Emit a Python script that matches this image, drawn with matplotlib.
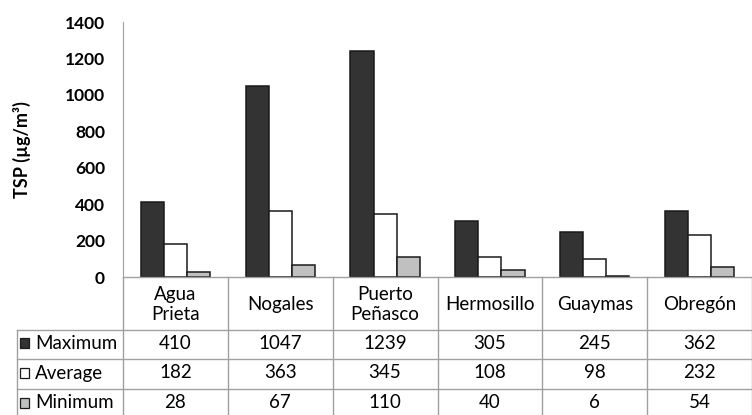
import matplotlib.pyplot as plt
from matplotlib.patches import Rectangle

# data
cities = ["Agua\nPrieta", "Nogales", "Puerto\nPeñasco", "Hermosillo", "Guaymas", "Obregón"]
maximum = [410, 1047, 1239, 305, 245, 362]
average = [182, 363, 345, 108, 98, 232]
minimum = [28, 67, 110, 40, 6, 54]
series_names = ["Maximum", "Average", "Minimum"]
series_colors = ["#333333", "#ffffff", "#c0c0c0"]
y_ticks = [0, 200, 400, 600, 800, 1000, 1200, 1400]

plt.rcParams['font.family'] = ['Lato', 'DejaVu Sans']

W, H = 752, 415
fig = plt.figure(figsize=(W / 100, H / 100), dpi=100)

# pixel layout
x_left, x_right = 123, 752
y_top, y_base = 22, 277
tab_left = 17
grid_col = "#a0a0a0"
fs = 13.5

ax = fig.add_axes([x_left / W, (H - y_base) / H, (x_right - x_left) / W, (y_base - y_top) / H])
n = len(cities)
bw = 0.22
offsets = [-bw, 0, bw]
series = [maximum, average, minimum]
for vals, off, col in zip(series, offsets, series_colors):
    ax.bar([i + 0.5 + off for i in range(n)], vals, width=bw, color=col,
           edgecolor="#1a1a1a", linewidth=1.1, zorder=2)

ax.set_xlim(0, n)
ax.set_ylim(0, 1400)
ax.set_xticks([])
ax.set_yticks(y_ticks)
ax.set_yticklabels([str(t) for t in y_ticks], fontsize=12.5, fontweight='bold')
ax.tick_params(axis='y', length=0, pad=13)
for s in ["top", "right", "bottom"]:
    ax.spines[s].set_visible(False)
ax.spines["left"].set_color(grid_col)
ax.set_ylabel("TSP (µg/m³)", fontsize=13, fontweight='bold')
ax.yaxis.set_label_coords(-0.146, 0.5)

# data table drawn below the plot area, coordinates: x in categories, y in pixels
tab = fig.add_axes([tab_left / W, (H - 420) / H, (x_right - tab_left) / W, (420 - y_base) / H])
unit = n / (x_right - x_left)
tab.set_xlim(-(x_left - tab_left) * unit, n)
tab.set_ylim(420, y_base)
tab.axis("off")

row_lines = [y_base, 330, 359, 389, 418]
lw = 1.0
x0 = tab.get_xlim()[0]
# horizontal lines
tab.plot([0, n], [row_lines[0]] * 2, color=grid_col, lw=lw, clip_on=False)
for yl in row_lines[1:]:
    tab.plot([x0, n], [yl] * 2, color=grid_col, lw=lw, clip_on=False)
# vertical lines
for i in range(n + 1):
    tab.plot([i, i], [y_base, row_lines[-1]], color=grid_col, lw=lw, clip_on=False)
tab.plot([x0] * 2, [row_lines[1], row_lines[-1]], color=grid_col, lw=lw, clip_on=False)

for i, c in enumerate(cities):
    tab.text(i + 0.5, (row_lines[0] + row_lines[1]) / 2 + 1, c, ha="center", va="center",
             fontsize=fs, linespacing=1.15)

for r, (name, col, vals) in enumerate(zip(series_names, series_colors, series)):
    yc = (row_lines[r + 1] + row_lines[r + 2]) / 2 - 1
    tab.add_patch(Rectangle((x0 + 3 * unit, yc - 5), 9 * unit, 10, facecolor=col,
                            edgecolor="#1a1a1a", lw=0.9, clip_on=False))
    tab.text(x0 + 18 * unit, yc, name, ha="left", va="center", fontsize=fs)
    for i, v in enumerate(vals):
        tab.text(i + 0.5, yc, str(v), ha="center", va="center", fontsize=fs)

fig.savefig("out.png", dpi=100)
